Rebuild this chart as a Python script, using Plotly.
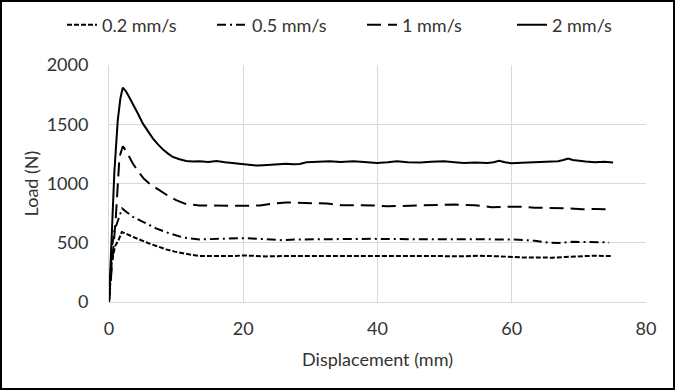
import plotly.graph_objects as go

# ---- data ----
disp_02 = [0, 0.4, 0.9, 1.4, 1.9, 2.4, 3.55, 4.8, 6.0, 7.3, 8.5, 9.8, 11, 12.3, 13.5, 16, 18.5, 20,
           23.5, 26, 28.4, 31, 34, 37, 40, 43, 46, 49, 52, 55, 58, 60, 62, 64, 66, 68, 70, 72, 74.9]
load_02 = [0, 330, 470, 520, 590, 580, 550, 520, 494, 468, 444, 425, 410, 398, 388, 385, 388, 393,
           385, 388, 388, 390, 392, 388, 388, 392, 390, 388, 385, 390, 386, 378, 375, 376, 374, 380, 388, 390, 388]

disp_05 = [0, 0.4, 0.8, 1.4, 1.96, 2.6, 3.55, 5.05, 7.0, 9.0, 11, 13.5, 16, 20, 23.5, 25.4, 28.4,
           30.4, 34.4, 39.4, 42, 46, 50, 52.5, 56, 59.9, 62, 63.4, 65.5, 67, 69, 71, 73.5, 74.5]
load_05 = [0, 450, 600, 700, 789, 760, 719, 677, 621, 579, 545, 528, 531, 539, 530, 522, 528,
           530, 533, 533, 531, 530, 532, 531, 530, 528, 522, 517, 500, 498, 508, 505, 503, 503]

disp_1 = [0, 0.5, 1.0, 1.56, 2.06, 2.6, 3.55, 4.5, 5.2, 6.0, 7.5, 8.7, 10, 11.5, 13.5, 16, 18.5, 20,
          22.5, 24.4, 26.4, 28.4, 30.4, 32.5, 34.6, 37.3, 39.5, 41.5, 44.2, 46.7, 49.2, 51.6, 54.5,
          57.0, 59.5, 61.5, 63.4, 65.7, 68.0, 70.5, 72.4, 74.9]
load_1 = [0, 320, 700, 1224, 1314, 1270, 1168, 1090, 1040, 1000, 944, 900, 859, 826, 815, 812, 810, 812,
          815, 831, 840, 837, 833, 831, 817, 817, 815, 808, 812, 816, 817, 822, 817,
          800, 803, 803, 796, 794, 791, 783, 785, 780]

disp_2 = [0, 0.5, 0.8, 1.3, 1.7, 2.05, 2.5, 3.0, 3.55, 4.3, 5.05, 5.8, 6.55, 7.3, 8.05, 8.8, 9.5,
          10.5, 11.5, 12.5, 13.5, 14.8, 16, 17.3, 18.5, 20, 21, 22, 23, 24.4, 25.4, 26.4, 27.4, 28.4,
          29.4, 31, 32.9, 34.5, 36.4, 38, 39.9, 41.5, 42.9, 44.5, 46.4, 48, 49.9, 51.5, 52.9, 54.5,
          56.4, 57.3, 58.1, 59.0, 59.9, 61.5, 63.4, 65, 66.9, 67.7, 68.4, 69.1, 69.9, 71, 72.4, 73.8, 75.1]
load_2 = [0, 700, 1100, 1530, 1720, 1809, 1780, 1730, 1674, 1590, 1505, 1440, 1379, 1330, 1286, 1252, 1224,
          1205, 1190, 1185, 1187, 1182, 1190, 1180, 1173, 1168, 1158, 1151, 1155, 1160, 1168, 1166, 1163, 1165,
          1180, 1184, 1188, 1182, 1188, 1182, 1174, 1180, 1188, 1180, 1177, 1183, 1188, 1180, 1174, 1178,
          1174, 1180, 1191, 1180, 1171, 1176, 1180, 1183, 1188, 1198, 1211, 1198, 1191, 1185, 1180, 1183, 1178]

series_names = ["0.2 mm/s", "0.5 mm/s", "1 mm/s", "2 mm/s"]
x_ticks = [0, 20, 40, 60, 80]
y_ticks = [0, 500, 1000, 1500, 2000]

FONT = "Lato"
TXT = "#333333"
FS = 18
W, H = 675, 390
ML, MR, MT, MB = 109, 29, 65, 88
PW, PH = W - ML - MR, H - MT - MB

fig = go.Figure()
styles = ["5px,2px", "9px,4px,2px,4px", "14px,7px", "solid"]
data = [(disp_02, load_02), (disp_05, load_05), (disp_1, load_1), (disp_2, load_2)]
for name, (xs, ys), dash in zip(series_names, data, styles):
    fig.add_trace(go.Scatter(x=xs, y=ys, mode="lines", name=name,
                             line=dict(color="black", width=2, dash=dash)))

fig.update_layout(
    width=W, height=H,
    margin=dict(l=ML, r=MR, t=MT, b=MB, autoexpand=False),
    paper_bgcolor="white", plot_bgcolor="white",
    font=dict(family=FONT, size=FS, color=TXT),
    showlegend=True,
    legend=dict(orientation="h", x=(62 - ML) / PW, xanchor="left",
                y=1 + (MT - 25) / PH, yanchor="middle",
                font=dict(family=FONT, size=FS, color=TXT),
                entrywidth=105, entrywidthmode="pixels",
                bgcolor="rgba(0,0,0,0)"),
    xaxis=dict(range=[0, 80], tickvals=x_ticks, ticktext=[str(v) for v in x_ticks],
               showgrid=True, gridcolor="#d9d9d9", gridwidth=1,
               showline=True, linecolor="#d9d9d9", linewidth=1,
               zeroline=False, ticks="", ticklabelstandoff=10,
               title=dict(text="Displacement (mm)", standoff=15,
                          font=dict(family=FONT, size=FS, color=TXT))),
    yaxis=dict(range=[0, 2000], tickvals=y_ticks, ticktext=[str(v) for v in y_ticks],
               showgrid=True, gridcolor="#d9d9d9", gridwidth=1,
               showline=True, linecolor="#d9d9d9", linewidth=1,
               zeroline=False, ticks="", ticklabelstandoff=16,
               title=dict(text="Load (N)", standoff=3,
                          font=dict(family=FONT, size=FS, color=TXT))),
)

# outer black frame around the whole picture
fig.add_shape(type="rect", xref="paper", yref="paper",
              x0=(1 - ML) / PW, x1=1 + (MR - 1) / PW,
              y0=-(MB - 1) / PH, y1=1 + (MT - 1) / PH,
              line=dict(color="black", width=2), fillcolor="rgba(0,0,0,0)", layer="above")

fig.write_html("out.html", config={"displayModeBar": False},
               post_script="document.body.style.margin='0';")
